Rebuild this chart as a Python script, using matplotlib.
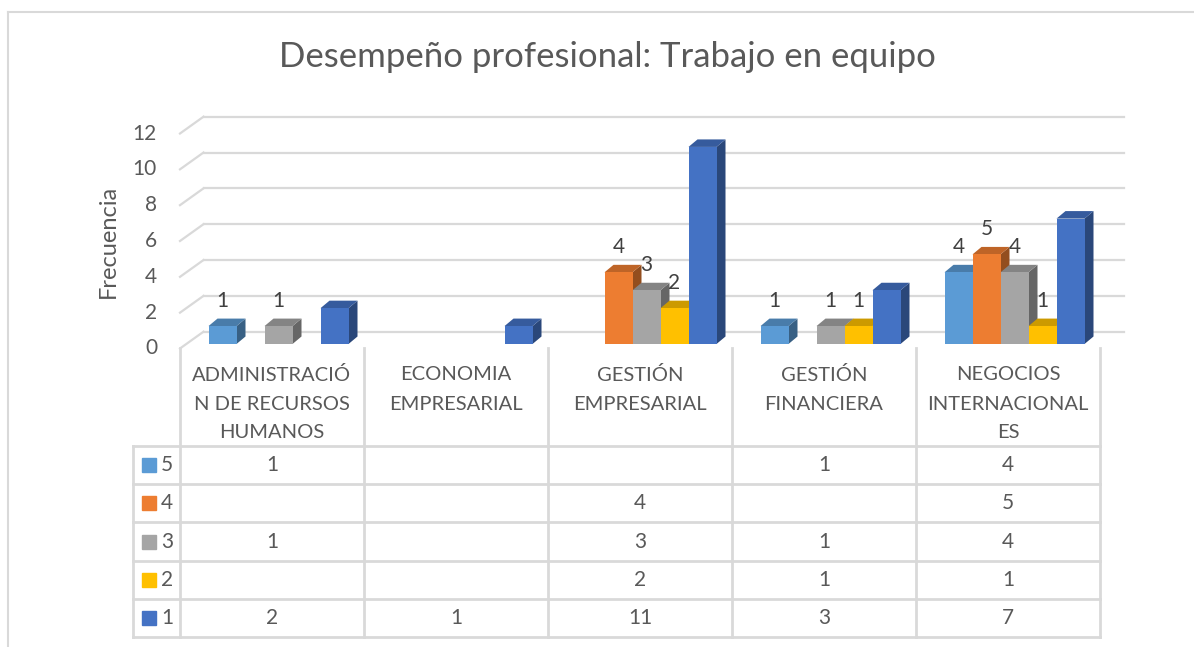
import numpy as np
import matplotlib.pyplot as plt
from matplotlib.patches import Polygon
from matplotlib.lines import Line2D
from matplotlib.colors import to_rgb

plt.rcParams['font.family'] = ['Lato', 'DejaVu Sans']

# data (blank cells -> None)
categories = ['ADMINISTRACIÓ\nN DE RECURSOS\nHUMANOS', 'ECONOMIA\nEMPRESARIAL',
              'GESTIÓN\nEMPRESARIAL', 'GESTIÓN\nFINANCIERA',
              'NEGOCIOS\nINTERNACIONAL\nES']
series = ['5', '4', '3', '2', '1']
s5 = [1, None, None, 1, 4]
s4 = [None, None, 4, None, 5]
s3 = [1, None, 3, 1, 4]
s2 = [None, None, 2, 1, 1]
s1 = [2, 1, 11, 3, 7]
values = [s5, s4, s3, s2, s1]
colors = ['#5B9BD5', '#ED7D31', '#A5A5A5', '#FFC000', '#4472C4']
show_labels = [True, True, True, True, False]
yticks = [0, 2, 4, 6, 8, 10, 12]

W, H = 1194, 647
fig = plt.figure(figsize=(W / 100, H / 100), dpi=100)


def box(l, t, r, b):
    return [l / W, 1 - b / H, (r - l) / W, (b - t) / H]


def shade(c, f):
    return tuple(np.array(to_rgb(c)) * f)


grid_c = '#D9D9D9'
txt_c = '#595959'
fs = 14.5

ax = fig.add_axes(box(180, 133.5, 1100, 348.5))
ax.set_xlim(-0.5, 4.5)
ax.set_ylim(0, 12)
ax.axis('off')

ux = 920 / 5     # px per category
uy = 215 / 12    # px per unit
bw = 28 / ux
wall_dx, wall_dy = 23.5 / ux, 16.8 / uy
bar_dx, bar_dy = 6.5 / ux, 4.5 / uy
dep_dx, dep_dy = 9 / ux, 7.5 / uy

# back wall gridlines + left wall diagonals
for v in yticks:
    ax.plot([-0.5 + wall_dx, 4.5 + wall_dx], [v + wall_dy] * 2, color=grid_c,
            lw=1.6, zorder=1, clip_on=False)
    ax.plot([-0.5, -0.5 + wall_dx], [v, v + wall_dy], color=grid_c,
            lw=1.6, zorder=1, clip_on=False)
    ax.text(-0.5 - 23 / ux, v, str(v), ha='right', va='center', fontsize=15,
            color=txt_c)

ax.text(-0.5 - 72 / ux, 6, 'Frecuencia', rotation=90, ha='center', va='center',
        fontsize=17, color=txt_c)

# 3d-ish columns
for i in range(len(categories)):
    for j in range(len(series)):
        v = values[j][i]
        if v is None:
            continue
        z = 3 + i * 10 + j * 2
        x0 = i + (j - 2.5) * bw + bar_dx
        base = bar_dy
        top = base + v
        side = [(x0 + bw, base), (x0 + bw + dep_dx, base + dep_dy),
                (x0 + bw + dep_dx, top + dep_dy), (x0 + bw, top)]
        lid = [(x0, top), (x0 + bw, top), (x0 + bw + dep_dx, top + dep_dy),
               (x0 + dep_dx, top + dep_dy)]
        ax.add_patch(Polygon(side, closed=True, color=shade(colors[j], 0.62),
                             zorder=z, clip_on=False, lw=0))
        ax.add_patch(Polygon(lid, closed=True, color=shade(colors[j], 0.8),
                             zorder=z, clip_on=False, lw=0))
        ax.bar(x0, v, width=bw, bottom=base, align='edge', color=colors[j],
               zorder=z + 1, clip_on=False, lw=0)
        if show_labels[j]:
            ax.text(x0 + bw / 2, top + 25 / uy, str(v), ha='center', va='center',
                    fontsize=15, color='#404040', zorder=100)

fig.text(607 / W, 1 - 57 / H, 'Desempeño profesional: Trabajo en equipo',
         ha='center', va='center', fontsize=25, color=txt_c)

# data table
rh = (637 - 446) / 5
tab = fig.add_axes(box(133, 348, 1100, 637))
xl = -0.5 - 47 / ux
tab.set_xlim(xl, 4.5)
tab.set_ylim(5, -(446 - 348) / rh)
tab.axis('off')

for k in range(6):
    tab.plot([k - 0.5] * 2, [-(446 - 348) / rh, 5], color=grid_c, lw=2,
             clip_on=False)
tab.plot([xl] * 2, [0, 5], color=grid_c, lw=2, clip_on=False)
for r in range(6):
    tab.plot([xl, 4.5], [r, r], color=grid_c, lw=2, clip_on=False)

for i, cat in enumerate(categories):
    for k, line in enumerate(cat.split('\n')):
        tab.text(i, -(446 - 375) / rh + k * 29 / rh, line, ha='center',
                 va='center', fontsize=fs, color=txt_c)

for r in range(len(series)):
    tab.plot(-0.5 - 31 / ux, r + 0.5, marker='s', ms=10, color=colors[r],
             clip_on=False)
    tab.text(-0.5 - 13 / ux, r + 0.5, series[r], ha='center', va='center',
             fontsize=15, color=txt_c)
    for i in range(len(categories)):
        v = values[r][i]
        if v is not None:
            tab.text(i, r + 0.5, str(v), ha='center', va='center', fontsize=15,
                     color=txt_c)

# chart border
fig.add_artist(Line2D([8 / W, 8 / W], [0, 1 - 12 / H], color=grid_c, lw=1.5))
fig.add_artist(Line2D([8 / W, 1], [1 - 12 / H] * 2, color=grid_c, lw=1.5))

fig.savefig('out.png', dpi=100)
